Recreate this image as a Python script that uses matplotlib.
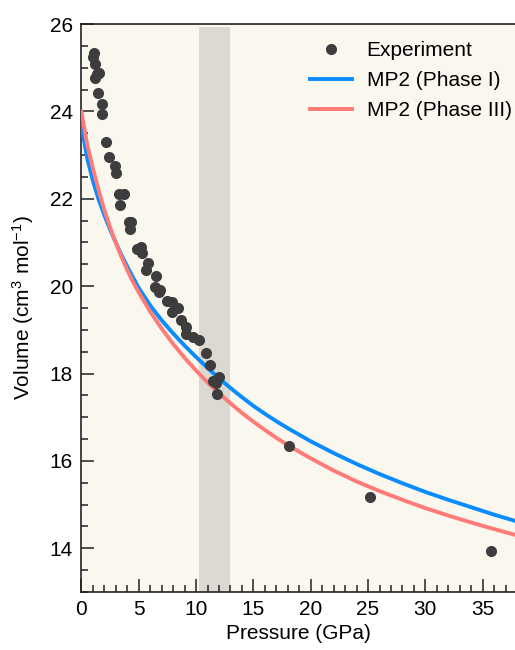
import matplotlib
matplotlib.use("Agg")
import matplotlib.pyplot as plt
from matplotlib.ticker import MultipleLocator

exp_p = [1.12, 1.03, 1.15, 1.38, 1.5, 1.23, 1.47, 1.81, 1.76, 2.19, 2.42,
         2.89, 3.0, 3.3, 3.7, 3.35, 4.11, 4.37, 4.28, 4.81, 5.24, 5.27,
         5.82, 5.62, 6.49, 6.40, 6.90, 6.80, 7.51, 7.86, 8.43, 7.86, 8.73,
         9.16, 9.16, 9.74, 10.24, 10.9, 11.19, 12.0, 11.48, 11.72, 11.83,
         18.07, 25.19, 35.73]
exp_v = [25.34, 25.25, 25.08, 24.85, 24.88, 24.76, 24.43, 24.16, 23.95, 23.30, 22.96,
         22.75, 22.58, 22.12, 22.12, 21.86, 21.47, 21.47, 21.32, 20.86, 20.90, 20.76,
         20.52, 20.38, 20.23, 19.98, 19.92, 19.87, 19.66, 19.64, 19.49, 19.41, 19.22,
         19.06, 18.91, 18.83, 18.76, 18.48, 18.19, 17.92, 17.83, 17.78, 17.54,
         16.35, 15.17, 13.95]

# MP2 curves, values
p_mp2 = [0, 0.5, 1, 1.5, 2, 2.5, 3, 3.5, 4, 4.5, 5, 6, 7, 8, 9, 10, 11, 12, 13,
         14, 15, 16, 17, 18, 20, 22, 24, 26, 28, 30, 32, 34, 36, 37.8]
v_phase1 = [23.69, 22.94, 22.42, 21.99, 21.63, 21.30, 21.00, 20.71, 20.45, 20.20,
            19.96, 19.56, 19.22, 18.92, 18.64, 18.38, 18.13, 17.89, 17.67, 17.46,
            17.26, 17.08, 16.91, 16.75, 16.45, 16.18, 15.93, 15.70, 15.49, 15.29,
            15.11, 14.94, 14.77, 14.63]
v_phase3 = [24.00, 23.25, 22.70, 22.20, 21.75, 21.35, 20.99, 20.67, 20.37, 20.10,
            19.86, 19.42, 19.03, 18.68, 18.36, 18.07, 17.80, 17.55, 17.32, 17.10,
            16.90, 16.71, 16.53, 16.36, 16.06, 15.78, 15.53, 15.31, 15.11, 14.92,
            14.75, 14.59, 14.44, 14.31]

shade_range = (10.25, 12.95)

plt.rcParams['font.family'] = ['Liberation Sans', 'DejaVu Sans']
plt.rcParams['mathtext.fontset'] = 'custom'
plt.rcParams['mathtext.rm'] = 'Liberation Sans'
plt.rcParams['mathtext.it'] = 'Liberation Sans'
plt.rcParams['mathtext.bf'] = 'Liberation Sans:bold'

fig = plt.figure(figsize=(5.15, 6.5), dpi=100)
ax = fig.add_axes([0.158, 0.0892, 0.8417, 0.8738])
ax.set_facecolor('#faf7ef')

ax.axvspan(shade_range[0], shade_range[1], ymin=0, ymax=0.995, color='#dcd9d2', lw=0, zorder=1)
ax.plot(exp_p, exp_v, 'o', color='#3d3d3d', ms=8, mew=0, label='Experiment', zorder=4)
ax.plot(p_mp2, v_phase1, color='#0a8cff', lw=2.8, label='MP2 (Phase I)', zorder=3)
ax.plot(p_mp2, v_phase3, color='#ff7b78', lw=2.8, label='MP2 (Phase III)', zorder=3)

ax.set_xlim(0, 37.8)
ax.set_ylim(13, 26)
ax.xaxis.set_major_locator(MultipleLocator(5))
ax.xaxis.set_minor_locator(MultipleLocator(1))
ax.yaxis.set_major_locator(MultipleLocator(2))
ax.yaxis.set_minor_locator(MultipleLocator(0.5))
ax.tick_params(which='both', direction='in', width=1.1, labelsize=15, color='#222222')
ax.tick_params(which='major', length=9.4)
ax.tick_params(which='minor', length=5)
ax.tick_params(axis='y', pad=6)
ax.tick_params(axis='x', pad=6)
ax.spines['right'].set_visible(False)
for s in ['left', 'bottom', 'top']:
    ax.spines[s].set_linewidth(1.2)
    ax.spines[s].set_color('#222222')

ax.set_xlabel('Pressure (GPa)', fontsize=15, labelpad=3)
ax.set_ylabel('Volume (cm$^\\mathregular{3}$ mol$^\\mathregular{-1}$)', fontsize=15, labelpad=10)

ax.legend(loc='upper right', bbox_to_anchor=(1.012, 0.984), frameon=False, fontsize=15,
          handlelength=2.0, labelspacing=0.52, handletextpad=0.7, borderaxespad=0,
          numpoints=1)

fig.savefig('out.png', dpi=100)
